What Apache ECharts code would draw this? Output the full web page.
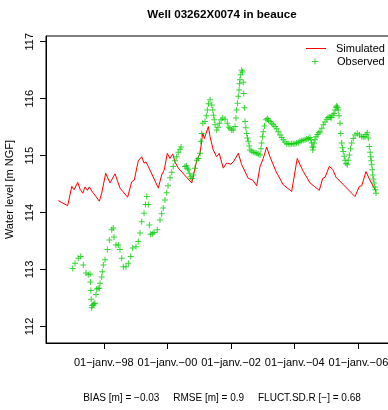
<!DOCTYPE html>
<html><head><meta charset="utf-8">
<script src="https://cdn.jsdelivr.net/npm/echarts@6/dist/echarts.min.js"></script>
<style>html,body{margin:0;padding:0;background:#fff}#c{width:388px;height:410px}</style>
</head><body><div id="c"></div>
<script>
var simDates = ['1996-07-28','1996-11-13','1996-12-30','1997-01-25','1997-03-08','1997-04-04','1997-05-05','1997-05-31','1997-06-27','1997-07-19','1997-08-16','1997-11-11','1997-12-08','1998-01-23','1998-03-13','1998-05-10','1998-07-06','1998-10-02','1998-11-17','1998-12-17','1999-02-01','1999-03-12','1999-04-08','1999-05-01','1999-05-27','1999-09-19','1999-10-27','1999-11-26','1999-12-31','2000-01-31','2000-03-02','2000-03-28','2000-05-05','2000-10-07','2000-12-03','2001-01-10','2001-02-10','2001-02-28','2001-04-15','2001-05-05','2001-06-10','2001-07-19','2001-08-18','2001-10-03','2001-11-11','2001-12-28','2002-01-27','2002-03-25','2002-05-03','2002-07-17','2002-09-06','2002-10-22','2002-11-29','2003-01-05','2003-02-13','2003-03-23','2003-06-01','2003-08-22','2003-11-27','2004-01-30','2004-03-02','2004-04-09','2004-06-25','2004-08-13','2004-09-02','2004-10-09','2004-11-17','2004-12-14','2005-02-01','2005-03-12','2005-04-19','2005-07-12','2005-11-23','2006-01-11','2006-02-08','2006-03-29','2006-05-06','2006-07-22'];
var simValues = [114.21,114.12,114.46,114.40,114.53,114.41,114.34,114.45,114.39,114.45,114.38,114.20,114.34,114.69,114.52,114.68,114.43,114.27,114.54,114.57,114.91,114.98,114.87,114.89,114.81,114.43,114.66,114.75,115.04,114.95,115.03,114.89,114.78,114.52,114.92,115.04,115.40,115.30,115.51,115.33,115.10,114.98,115.04,114.78,114.87,114.85,114.89,115.04,114.84,114.60,114.57,114.47,114.81,114.95,115.15,114.98,114.72,114.49,114.37,114.95,114.84,114.72,114.52,114.46,114.49,114.39,114.60,114.62,114.81,114.76,114.62,114.49,114.28,114.46,114.47,114.72,114.59,114.37];

var obsDates = ['1997-01-10','1997-02-05','1997-03-14','1997-04-11','1997-05-11','1997-06-11','1997-07-07','1997-07-27','1997-07-31','1997-08-05','1997-08-10','1997-08-15','1997-08-22','1997-09-03','1997-09-11','1997-09-22','1997-10-04','1997-10-12','1997-10-27','1997-11-11','1997-11-19','1997-12-08','1997-12-15','1997-12-27','1998-01-15','1998-02-11','1998-03-06','1998-04-02','1998-04-20','1998-04-28','1998-05-21','1998-06-17','1998-07-06','1998-07-26','1998-08-13','1998-09-13','1998-10-10','1998-11-06','1998-11-29','1999-01-06','1999-02-01','1999-02-21','1999-03-12','1999-04-08','1999-04-25','1999-05-09','1999-05-27','1999-06-08','1999-06-23','1999-07-12','1999-07-31','1999-09-07','1999-10-08','1999-10-27','1999-11-14','1999-12-04','1999-12-24','2000-01-08','2000-01-31','2000-02-20','2000-03-09','2000-03-28','2000-04-17','2000-05-05','2000-05-25','2000-06-06','2000-07-21','2000-08-05','2000-08-17','2000-08-28','2000-09-09','2000-09-23','2000-10-07','2000-10-25','2000-11-13','2000-12-03','2000-12-21','2001-01-10','2001-01-18','2001-01-29','2001-02-10','2001-03-08','2001-03-23','2001-04-04','2001-04-17','2001-05-05','2001-05-24','2001-06-05','2001-06-12','2001-06-22','2001-07-01','2001-07-20','2001-08-04','2001-08-19','2001-09-08','2001-09-27','2001-10-23','2001-11-19','2001-12-05','2001-12-20','2002-01-08','2002-01-26','2002-02-15','2002-02-26','2002-03-06','2002-03-16','2002-03-25','2002-04-02','2002-04-08','2002-04-13','2002-04-21','2002-05-03','2002-05-12','2002-05-21','2002-05-26','2002-06-02','2002-06-10','2002-06-19','2002-06-29','2002-07-08','2002-07-17','2002-07-28','2002-08-06','2002-08-26','2002-09-13','2002-10-03','2002-10-22','2002-11-09','2002-11-29','2002-12-10','2002-12-18','2002-12-27','2003-01-05','2003-01-19','2003-02-06','2003-02-21','2003-03-06','2003-03-24','2003-04-12','2003-04-30','2003-05-20','2003-06-08','2003-06-26','2003-07-16','2003-08-05','2003-08-23','2003-09-11','2003-10-01','2003-10-19','2003-11-08','2003-11-27','2003-12-15','2004-01-04','2004-01-23','2004-02-11','2004-03-01','2004-03-20','2004-04-08','2004-04-28','2004-05-17','2004-06-05','2004-06-25','2004-07-06','2004-07-14','2004-07-21','2004-07-26','2004-08-02','2004-08-10','2004-08-21','2004-09-02','2004-09-17','2004-10-03','2004-10-18','2004-11-07','2004-11-25','2004-12-14','2005-01-03','2005-01-17','2005-02-01','2005-02-15','2005-02-28','2005-03-15','2005-03-27','2005-04-08','2005-04-19','2005-04-27','2005-05-06','2005-05-15','2005-05-23','2005-06-04','2005-06-12','2005-06-23','2005-07-02','2005-07-11','2005-07-22','2005-07-31','2005-08-12','2005-08-27','2005-09-07','2005-09-19','2005-10-02','2005-10-16','2005-11-03','2005-11-23','2005-12-19','2006-01-13','2006-02-08','2006-02-26','2006-03-17','2006-03-31','2006-04-13','2006-04-24','2006-05-06','2006-05-16','2006-05-22','2006-05-28','2006-06-03','2006-06-09','2006-06-14','2006-06-21','2006-06-29','2006-07-07','2006-07-14','2006-07-22'];
var obsValues = [113.02,113.11,113.20,113.23,113.08,112.94,112.91,112.92,112.78,112.63,112.48,112.33,112.37,112.38,112.40,112.41,112.56,112.66,112.67,112.67,112.76,112.87,112.96,113.08,113.17,113.35,113.52,113.70,113.73,113.57,113.43,113.43,113.35,113.20,113.05,113.05,113.11,113.23,113.38,113.40,113.49,113.64,113.84,113.99,114.14,114.28,114.14,113.78,113.62,113.63,113.65,113.70,113.87,113.98,114.08,114.22,114.35,114.47,114.61,114.71,114.81,114.91,114.98,115.06,115.11,115.15,114.81,114.82,114.78,114.75,114.69,114.63,114.60,114.66,114.78,114.92,114.95,115.04,115.25,115.39,115.57,115.60,115.70,115.80,115.91,115.98,115.89,115.80,115.71,115.63,115.54,115.45,115.50,115.57,115.63,115.66,115.64,115.57,115.50,115.48,115.45,115.45,115.51,115.66,115.80,115.92,116.04,116.15,116.26,116.33,116.42,116.50,116.47,116.29,116.09,115.84,115.60,115.49,115.39,115.31,115.25,115.17,115.10,115.08,115.06,115.05,115.04,115.03,115.01,115.12,115.22,115.33,115.42,115.52,115.63,115.65,115.62,115.60,115.57,115.54,115.51,115.47,115.42,115.36,115.32,115.28,115.24,115.21,115.21,115.20,115.21,115.21,115.21,115.22,115.23,115.25,115.26,115.27,115.28,115.29,115.30,115.32,115.28,115.22,115.15,115.10,115.15,115.22,115.28,115.33,115.37,115.40,115.42,115.48,115.54,115.59,115.64,115.67,115.68,115.67,115.67,115.71,115.74,115.80,115.85,115.87,115.85,115.80,115.70,115.57,115.39,115.22,115.14,115.07,114.99,114.92,114.86,114.84,114.92,115.01,115.12,115.22,115.30,115.36,115.39,115.36,115.33,115.33,115.33,115.37,115.40,115.31,115.16,115.06,114.98,114.91,114.84,114.75,114.66,114.59,114.52,114.45,114.40,114.34];

var xTickDates = ['1998-01-01','2000-01-01','2002-01-01','2004-01-01','2006-01-01'];
var xTickLabels = ['01\u2212janv.\u221298','01\u2212janv.\u221200','01\u2212janv.\u221202','01\u2212janv.\u221204','01\u2212janv.\u221206'];
var yTicks = [112, 113, 114, 115, 116, 117];

function toTime(s) { var p = s.split('-'); return Date.UTC(+p[0], +p[1] - 1, +p[2]); }
var xTickTimes = xTickDates.map(toTime);
var FONT = 'Liberation Sans, Arial, Helvetica, sans-serif';
var plusPath = 'path://M-0.5,-3H0.5V-0.5H3V0.5H0.5V3H-0.5V0.5H-3V-0.5H-0.5Z';

var chart = echarts.init(document.getElementById('c'), null, {renderer: 'canvas'});
chart.setOption({
  animation: false,
  backgroundColor: '#fff',
  title: [
    {text: 'Well 03262X0074 in beauce', left: 217, top: 4, textAlign: 'center',
     textStyle: {fontFamily: FONT, fontSize: 11.6, fontWeight: 'bold', color: '#000'}},
    {text: 'BIAS [m] = \u22120.03     RMSE [m] = 0.9     FLUCT.SD.R [\u2212] = 0.68', left: 217, top: 388, textAlign: 'center',
     textStyle: {fontFamily: FONT, fontSize: 10, fontWeight: 'normal', color: '#000'}}
  ],
  legend: [
    {data: [{name: 'Simulated', icon: 'rect', itemStyle: {color: '#FF0000'}}], left: 306, top: 43, orient: 'vertical', padding: 0, itemWidth: 20, itemHeight: 1,
     textStyle: {fontFamily: FONT, fontSize: 11, color: '#000', padding: [0, 0, 0, 5]}},
    {data: ['Observed'], left: 312, top: 56, orient: 'vertical', padding: 0, itemWidth: 6, itemHeight: 6,
     textStyle: {fontFamily: FONT, fontSize: 11, color: '#000', padding: [0, 0, 0, 14]}}
  ],
  grid: {left: 46, top: 36, right: -1, bottom: 67, outerBoundsMode: 'none', containLabel: false,
         show: true, borderColor: '#000', borderWidth: 1, backgroundColor: 'transparent'},
  xAxis: {
    type: 'value', min: toTime('1996-03-09'), max: toTime('2006-12-18'),
    splitLine: {show: false},
    axisLine: {show: true, lineStyle: {color: '#000', width: 1}},
    axisTick: {show: true, length: 6, lineStyle: {color: '#000'}, customValues: xTickTimes},
    axisLabel: {customValues: xTickTimes, margin: 14, fontFamily: FONT, fontSize: 11, color: '#000',
      formatter: function (v) { var i = xTickTimes.indexOf(v); return i >= 0 ? xTickLabels[i] : ''; }}
  },
  yAxis: {
    type: 'value', min: 111.71, max: 117.1,
    name: 'Water level [m NGF]', nameLocation: 'middle', nameGap: 31, nameRotate: 90,
    nameTextStyle: {fontFamily: FONT, fontSize: 11, color: '#000'},
    splitLine: {show: false},
    axisLine: {show: true, lineStyle: {color: '#000', width: 1}},
    axisTick: {show: true, length: 6, lineStyle: {color: '#000'}, customValues: yTicks},
    axisLabel: {customValues: yTicks, rotate: 90, margin: 11, fontFamily: FONT, fontSize: 11, color: '#000'}
  },
  series: [
    {name: 'Simulated', type: 'line', showSymbol: false, symbol: 'none', z: 2,
     lineStyle: {color: '#FF0000', width: 1}, itemStyle: {color: '#FF0000'},
     data: simDates.map(function (d, i) { return [toTime(d), simValues[i]]; })},
    {name: 'Observed', type: 'scatter', symbol: plusPath, symbolSize: 6, symbolKeepAspect: true, z: 3,
     itemStyle: {color: '#00CD00'},
     data: obsDates.map(function (d, i) { return [toTime(d), obsValues[i]]; })}
  ]
});
</script></body></html>
